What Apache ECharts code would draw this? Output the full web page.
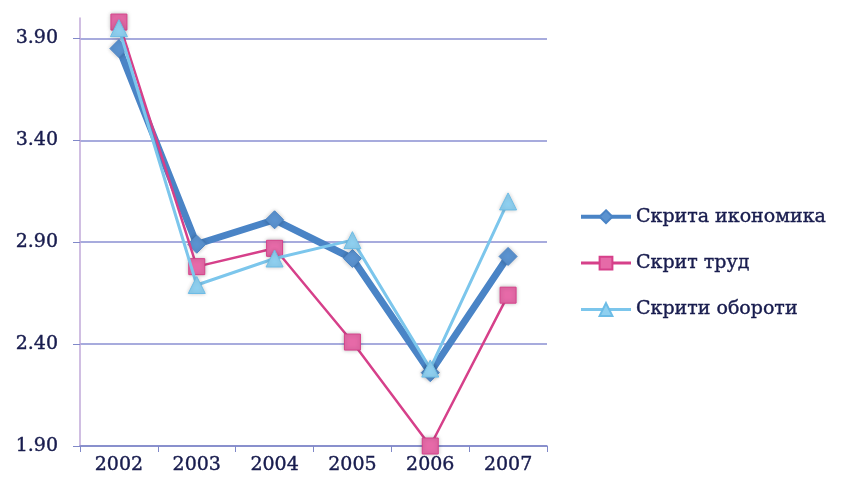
<!DOCTYPE html>
<html>
<head>
<meta charset="utf-8">
<script src="https://cdn.jsdelivr.net/npm/echarts@6/dist/echarts.min.js"></script>
<style>
html,body{margin:0;padding:0;background:#fff;}
#chart{width:853px;height:496px;}
</style>
</head>
<body>
<div id="chart"></div>
<script>
var years = ['2002', '2003', '2004', '2005', '2006', '2007'];
var skritaIkonomika = [3.85, 2.89, 3.01, 2.82, 2.26, 2.83];
var skritTrud = [3.98, 2.78, 2.87, 2.41, 1.90, 2.64];
var skritiOboroti = [3.95, 2.69, 2.82, 2.91, 2.28, 3.10];
var seriesNames = ['Скрита икономика', 'Скрит труд', 'Скрити обороти'];

var textFont = 'DejaVu Serif';
var textColor = '#181c4e';

var chart = echarts.init(document.getElementById('chart'));
var option = {
    animation: false,
    grid: {
        left: 80,
        right: 306,
        top: 18,
        bottom: 50
    },
    legend: {
        data: [
            {name: seriesNames[0], lineStyle: {width: 4}},
            {name: seriesNames[1], lineStyle: {width: 3}},
            {name: seriesNames[2], lineStyle: {width: 3}}
        ],
        orient: 'vertical',
        left: 574,
        top: 202,
        itemWidth: 50,
        itemHeight: 16,
        itemGap: 27,
        textStyle: {
            fontFamily: textFont,
            fontSize: 19,
            color: textColor,
            textBorderColor: textColor,
            textBorderWidth: 0.4
        }
    },
    xAxis: {
        type: 'category',
        data: years,
        boundaryGap: true,
        axisLine: {lineStyle: {color: '#8088c8', width: 1.5}},
        axisTick: {show: true, length: 6, lineStyle: {color: '#8088c8'}},
        axisLabel: {
            margin: 10,
            fontFamily: textFont,
            fontSize: 19,
            color: textColor,
            textBorderColor: textColor,
            textBorderWidth: 0.4
        }
    },
    yAxis: {
        type: 'value',
        min: 1.9,
        max: 4.0,
        interval: 0.5,
        axisLine: {show: true, lineStyle: {color: '#c0a8d8', width: 1.5}},
        axisTick: {show: true, length: 7, lineStyle: {color: '#8088c8'}},
        axisLabel: {
            showMaxLabel: false,
            margin: 22,
            fontFamily: textFont,
            fontSize: 19,
            color: textColor,
            textBorderColor: textColor,
            textBorderWidth: 0.4,
            formatter: function (v) {
                return v.toFixed(2);
            }
        },
        splitLine: {
            showMaxLine: false,
            lineStyle: {color: '#8a8fd2', width: 1.5}
        }
    },
    series: [
        {
            name: seriesNames[0],
            type: 'line',
            data: skritaIkonomika,
            symbol: 'diamond',
            symbolSize: 18,
            lineStyle: {color: '#4a84c6', width: 7},
            itemStyle: {color: '#5b93d0', borderColor: '#4a84c6', borderWidth: 1, shadowBlur: 4, shadowColor: 'rgba(0,0,0,0.25)'},
            z: 2
        },
        {
            name: seriesNames[1],
            type: 'line',
            data: skritTrud,
            symbol: 'rect',
            symbolSize: 16,
            lineStyle: {color: '#d6408a', width: 2.5},
            itemStyle: {color: '#e66aa8', borderColor: '#d6408a', borderWidth: 1, shadowBlur: 4, shadowColor: 'rgba(0,0,0,0.25)'},
            z: 3
        },
        {
            name: seriesNames[2],
            type: 'line',
            data: skritiOboroti,
            symbol: 'triangle',
            symbolSize: 17,
            lineStyle: {color: '#7cc6ec', width: 3},
            itemStyle: {color: '#8fd0f0', borderColor: '#6cbce6', borderWidth: 1, shadowBlur: 4, shadowColor: 'rgba(0,0,0,0.2)'},
            z: 4
        }
    ]
};
chart.setOption(option);
</script>
</body>
</html>
